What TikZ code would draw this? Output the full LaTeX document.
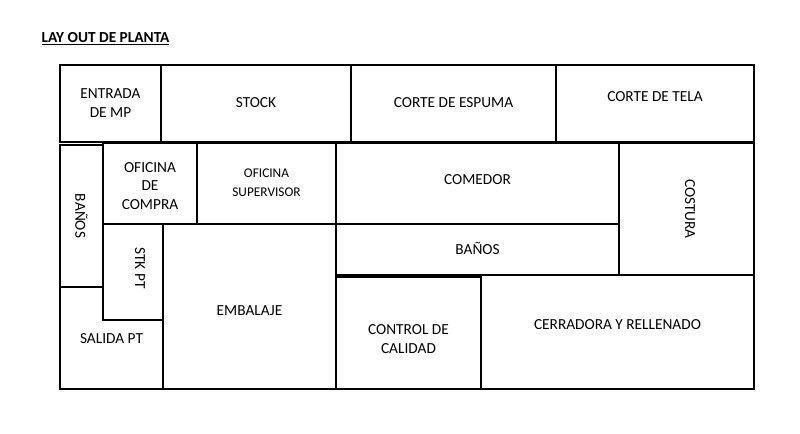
\documentclass[tikz,border=0pt]{standalone}
\usepackage{fontspec}
\setmainfont{Carlito}
\usetikzlibrary{positioning}
\begin{document}
\begin{tikzpicture}[x=0.75pt,y=-0.75pt,
  room/.style={draw, line width=0.9pt},
  thick room/.style={draw, line width=1.4pt},
  label/.style={font=\fontsize{11.5}{14}\selectfont, align=center},
]
\useasboundingbox (0,0) rectangle (800,433);
% title
\node[font=\fontsize{11.5}{14}\selectfont\bfseries, anchor=west] (title) at (37,39) {\underline{LAY OUT DE PLANTA}};

% row 1
\draw[room] (60,65) rectangle (161,142);
\node[label] (entrada) at (110.5,103) {ENTRADA\\DE MP};
\draw[room] (161,65) rectangle (351,142);
\node[label] (stock) at (256,103) {STOCK};
\draw[room] (351,65) rectangle (556,142);
\node[label] (espuma) at (453.5,103) {CORTE DE ESPUMA};
\draw[room] (556,65) rectangle (754,142);
\node[label] (tela) at (655,97) {CORTE DE TELA};

% row 2
\draw[room] (60,145) rectangle (103,287);
\node[label, rotate=-90] (banos1) at (81.5,216) {BAÑOS};
\draw[thick room] (103,143) rectangle (197,224);
\node[label] (compra) at (150,186) {OFICINA\\DE\\COMPRA};
\draw[room] (197,143) rectangle (336,224);
\node[label, font=\fontsize{10}{14}\selectfont] (supervisor) at (266.5,183) {OFICINA\\SUPERVISOR};
\draw[room] (336,143) rectangle (619,224);
\node[label] (comedor) at (477.5,180) {COMEDOR};
\draw[room] (619,143) rectangle (754,275);
\node[label, rotate=-90] (costura) at (690,209) {COSTURA};
\draw[room] (336,224) rectangle (619,275);
\node[label] (banos2) at (477.5,248) {BAÑOS};

% row 3
\draw[room] (103,224) rectangle (163,320);
\node[label, rotate=-90] (stkpt) at (140,268) {STK PT};
\draw[room] (163,224) rectangle (336,389);
\node[label] (embalaje) at (249.5,311) {EMBALAJE};
\draw[room] (103,287) -- (60,287) -- (60,389) -- (163,389) -- (163,320);
\node[label] (salida) at (111.5,339) {SALIDA PT};
\draw[thick room] (336,277) rectangle (481,389);
\node[label] (control) at (408.5,339) {CONTROL DE\\CALIDAD};
\draw[room] (481,275) rectangle (754,389);
\node[label] (cerradora) at (617.5,325) {CERRADORA Y RELLENADO};
\end{tikzpicture}
\end{document}
